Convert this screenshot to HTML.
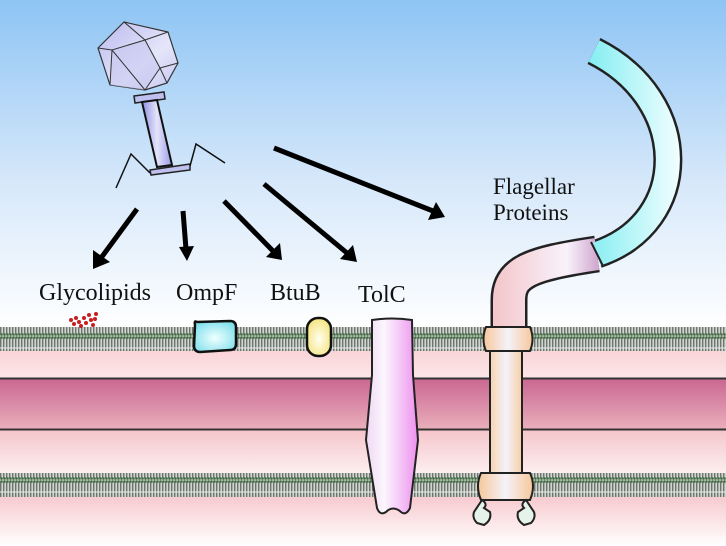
<!DOCTYPE html>
<html><head><meta charset="utf-8"><style>
html,body{margin:0;padding:0;background:#fff}
svg{display:block}
text{font-family:"Liberation Serif",serif;font-size:24px;fill:#111}
</style></head><body>
<svg width="726" height="546" viewBox="0 0 726 546" xmlns="http://www.w3.org/2000/svg">
<defs>
<linearGradient id="sky" x1="0" y1="0" x2="0" y2="1">
<stop offset="0" stop-color="#8ec4f4"/><stop offset="0.55" stop-color="#d6e8fa"/><stop offset="1" stop-color="#ffffff"/>
</linearGradient>
<linearGradient id="pink1" x1="0" y1="0" x2="0" y2="1">
<stop offset="0" stop-color="#f6c4c8"/><stop offset="1" stop-color="#fde8e9"/>
</linearGradient>
<linearGradient id="dark" x1="0" y1="0" x2="0" y2="1">
<stop offset="0" stop-color="#c96690"/><stop offset="1" stop-color="#eab0bc"/>
</linearGradient>
<linearGradient id="pink3" x1="0" y1="0" x2="0" y2="1">
<stop offset="0" stop-color="#f5c6cb"/><stop offset="1" stop-color="#fdf0f1"/>
</linearGradient>
<linearGradient id="pink4" x1="0" y1="0" x2="0" y2="1">
<stop offset="0" stop-color="#f7c8cc"/><stop offset="1" stop-color="#ffffff"/>
</linearGradient>
<pattern id="lip" width="3" height="24" patternUnits="userSpaceOnUse">
<rect width="3" height="24" fill="#cfd4cf"/>
<rect x="0" y="2" width="1.4" height="20" fill="#6e746e"/>
<circle cx="1.5" cy="1.5" r="1.3" fill="#3f6a3f"/>
<circle cx="1.5" cy="22.5" r="1.3" fill="#3f6a3f"/>
<rect x="0" y="11.5" width="3" height="1" fill="#eee"/>
</pattern>
<linearGradient id="tolc" x1="0" y1="0" x2="1" y2="0">
<stop offset="0" stop-color="#f0d8f4"/><stop offset="0.35" stop-color="#fbf6fd"/><stop offset="1" stop-color="#ee90ee"/>
</linearGradient>
<linearGradient id="ring" x1="0" y1="0" x2="1" y2="0">
<stop offset="0" stop-color="#f6c79a"/><stop offset="0.5" stop-color="#f5f2fa"/><stop offset="1" stop-color="#f6c79a"/>
</linearGradient>
<linearGradient id="rod" x1="0" y1="0" x2="1" y2="0">
<stop offset="0" stop-color="#f7d3b0"/><stop offset="0.5" stop-color="#f4f2fb"/><stop offset="1" stop-color="#f7cfa6"/>
</linearGradient>
<radialGradient id="omp" cx="0.5" cy="0.55" r="0.6"><stop offset="0" stop-color="#f0ffff"/><stop offset="1" stop-color="#7fe0ec"/></radialGradient>
<radialGradient id="btu" cx="0.5" cy="0.55" r="0.6"><stop offset="0" stop-color="#fffff0"/><stop offset="1" stop-color="#f4e27a"/></radialGradient>
<linearGradient id="tail" x1="0" y1="0" x2="1" y2="0">
<stop offset="0" stop-color="#8f8fe4"/><stop offset="0.5" stop-color="#e4e4fa"/><stop offset="1" stop-color="#9a9ae8"/>
</linearGradient>
<linearGradient id="head" x1="0" y1="0" x2="1" y2="1">
<stop offset="0" stop-color="#b8b8ee"/><stop offset="0.6" stop-color="#e6e6fa"/><stop offset="1" stop-color="#c4c4f0"/>
</linearGradient>
<linearGradient id="flagP" gradientUnits="userSpaceOnUse" x1="490" y1="0" x2="600" y2="0">
<stop offset="0" stop-color="#f3c4c8"/><stop offset="0.7" stop-color="#f8f2fb"/><stop offset="1" stop-color="#cfa3cc"/>
</linearGradient>
<linearGradient id="flagC" gradientUnits="userSpaceOnUse" x1="590" y1="0" x2="680" y2="0">
<stop offset="0" stop-color="#86eef2"/><stop offset="1" stop-color="#f2feff"/>
</linearGradient>
</defs>

<rect width="726" height="330" fill="url(#sky)"/>
<rect y="328" width="726" height="52" fill="url(#pink1)"/>
<rect y="378" width="726" height="52" fill="url(#dark)"/>
<rect y="430" width="726" height="45" fill="url(#pink3)"/>
<rect y="495" width="726" height="51" fill="url(#pink4)"/>
<line x1="0" y1="378.5" x2="726" y2="378.5" stroke="#333" stroke-width="2"/>
<line x1="0" y1="429.5" x2="726" y2="429.5" stroke="#333" stroke-width="2"/>
<rect x="0" y="327" width="726" height="24" fill="url(#lip)"/>
<rect x="0" y="473" width="726" height="24" fill="url(#lip)"/>

<g fill="#c81e1e">
<circle cx="71" cy="320" r="2"/><circle cx="74" cy="324" r="2"/><circle cx="76" cy="318" r="2"/>
<circle cx="79" cy="322" r="2"/><circle cx="81" cy="326" r="2"/><circle cx="84" cy="318" r="2"/>
<circle cx="86" cy="323" r="2"/><circle cx="89" cy="315" r="2"/><circle cx="91" cy="320" r="2"/>
<circle cx="93" cy="325" r="2"/><circle cx="96" cy="314" r="2"/><circle cx="95" cy="319" r="2"/>
</g>
<path d="M197,322 Q194,320 195,325 L194,347 Q195,352 200,352 L230,350 Q236,350 236,344 L236,327 Q236,321 230,321 Z" fill="url(#omp)" stroke="#111" stroke-width="2.5"/>
<rect x="307" y="318" width="24" height="38" rx="11" fill="url(#btu)" stroke="#111" stroke-width="2.5"/>
<path d="M372,320 Q392,317 412,320 L413,375 L418,440 L410,508 Q406,516 401,512 Q393,505 386,512 Q380,516 377,508 L366,440 L372,375 Z" fill="url(#tolc)" stroke="#222" stroke-width="2"/>

<path d="M509,330 L509,300 C509,272 530,264 597,254" fill="none" stroke="#222" stroke-width="37"/>
<path d="M597,254 C692,222 692,100 594,51" fill="none" stroke="#222" stroke-width="29"/>
<path d="M509,330 L509,300 C509,272 530,264 597,254" fill="none" stroke="url(#flagP)" stroke-width="32"/>
<path d="M597,254 C692,222 692,100 594,51" fill="none" stroke="url(#flagC)" stroke-width="24"/>
<line x1="591" y1="242" x2="603" y2="266" stroke="#222" stroke-width="2"/>
<rect x="490" y="345" width="32" height="132" fill="url(#rod)" stroke="#222" stroke-width="2"/>
<path d="M486,327 L530,327 Q535,339 530,351 L486,351 Q481,339 486,327 Z" fill="url(#ring)" stroke="#222" stroke-width="2"/>
<path d="M481,473 L530,473 Q536,486 530,500 L481,500 Q475,486 481,473 Z" fill="url(#ring)" stroke="#222" stroke-width="2"/>
<path d="M482,500 Q488,504 484,508 L490,512 Q492,520 484,525 L477,523 Q472,518 474,512 Q478,506 482,500 Z" fill="#e6f3ea" stroke="#222" stroke-width="2"/>
<path d="M526,500 Q520,504 524,508 L518,512 Q516,520 524,525 L531,523 Q536,518 534,512 Q530,506 526,500 Z" fill="#e6f3ea" stroke="#222" stroke-width="2"/>

<polygon points="124,22 168,32 178,63 167,83 145,90 110,85 98,48" fill="url(#head)" stroke="#333" stroke-width="1.2"/>
<polygon points="112,50 145,40 160,68 145,90 110,85" fill="#c6c6f0" opacity="0.6"/>
<g fill="none" stroke="#333" stroke-width="1">
<path d="M98,48 L112,50 L145,40 L168,32"/><path d="M124,22 L145,40 L160,68 L178,63"/><path d="M112,50 L110,85 M112,50 L145,90 M160,68 L145,90 M160,68 L167,83"/>
</g>
<polygon points="134,96 164,92 165,99 135,103" fill="#c0c0f0" stroke="#222" stroke-width="1.5"/>
<polygon points="142,102 157,100 172,165 157,167" fill="url(#tail)" stroke="#111" stroke-width="2"/>
<polygon points="150,170 190,164 190,170 151,175" fill="#c0c0f0" stroke="#222" stroke-width="1.5"/>
<polyline points="150,173 131,154 116,188" fill="none" stroke="#111" stroke-width="1.5"/>
<polyline points="190,166 196,144 225,163" fill="none" stroke="#111" stroke-width="1.5"/>

<g stroke="#000" stroke-width="5" fill="#000">
<line x1="137" y1="209" x2="101" y2="258"/>
<line x1="183" y1="211" x2="186" y2="249"/>
<line x1="224" y1="201" x2="273" y2="251"/>
<line x1="264" y1="184" x2="347" y2="253"/>
<line x1="274" y1="148" x2="433" y2="211"/>
</g>
<g fill="#000">
<polygon points="93,269 93,250 110,262"/>
<polygon points="187,261 179,247 194,246"/>
<polygon points="282,260 266,257 280,243"/>
<polygon points="357,262 340,259 353,245"/>
<polygon points="445,217 428,220 436,202"/>
</g>

<text x="39" y="300">Glycolipids</text>
<text x="176" y="300">OmpF</text>
<text x="270" y="300">BtuB</text>
<text x="358" y="302">TolC</text>
<text x="493" y="194" style="font-size:23px">Flagellar</text>
<text x="493" y="220" style="font-size:23px">Proteins</text>
</svg>
</body></html>
